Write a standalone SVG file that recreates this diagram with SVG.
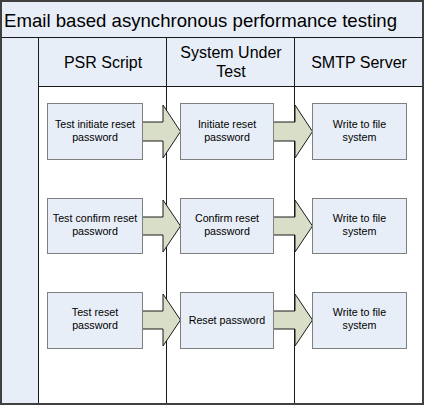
<svg xmlns="http://www.w3.org/2000/svg" width="425" height="407" viewBox="0 0 425 407">
<style>
.bg{fill:#e8eef7;stroke:none}
.ln{stroke:#1a1a1a;stroke-width:1;fill:none}
.frame{fill:none;stroke:#404040;stroke-width:2}
.box{fill:#e8eef7;stroke:#7f7f7f;stroke-width:1}
.arr{fill:#d9dec8;stroke:#1a1a1a;stroke-width:1;stroke-linejoin:miter}
.t{font-family:"Liberation Sans",Arial,sans-serif;fill:#000;text-anchor:middle}
.title{font-size:19px;text-anchor:start}
.hd{font-size:16px}
.bx{font-size:10.7px}
</style>
<g id="pool">
<rect x="1" y="1" width="422" height="403" fill="#ffffff"/>
<rect class="bg" x="1" y="1" width="422" height="37"/>
<rect class="bg" x="1" y="38" width="38" height="366"/>
<rect class="bg" x="39" y="38" width="384" height="48"/>
<line class="ln" x1="1" y1="37.5" x2="423" y2="37.5" stroke="#555"/>
<line class="ln" x1="38.5" y1="38" x2="38.5" y2="404"/>
<line class="ln" x1="39" y1="86.5" x2="423" y2="86.5"/>
<line class="ln" x1="166.5" y1="38" x2="166.5" y2="404"/>
<line class="ln" x1="294.5" y1="38" x2="294.5" y2="404"/>
<rect class="frame" x="1" y="1" width="422" height="403"/>
<text class="t title" x="4" y="27" textLength="393" lengthAdjust="spacingAndGlyphs">Email based asynchronous performance testing</text>
</g>
<g id="lane-psr"><text class="t hd" x="103" y="68">PSR Script</text></g>
<g id="lane-sut"><text class="t hd" x="231" y="58">System Under</text><text class="t hd" x="231" y="77">Test</text></g>
<g id="lane-smtp"><text class="t hd" x="359" y="68">SMTP Server</text></g>
<g id="connectors">
<path class="arr" d="M142.5,122 H163 V105 L180.5,131.5 L163,158 V141 H142.5 Z"/>
<path class="arr" d="M273.5,122 H295 V105 L312.5,131.5 L295,158 V141 H273.5 Z"/>
<path class="arr" d="M142.5,217 H163 V200 L180.5,226 L163,252 V235 H142.5 Z"/>
<path class="arr" d="M273.5,217 H295 V200 L312.5,226 L295,252 V235 H273.5 Z"/>
<path class="arr" d="M142.5,311 H163 V294 L180.5,320 L163,346 V329 H142.5 Z"/>
<path class="arr" d="M273.5,311 H295 V294 L312.5,320 L295,346 V329 H273.5 Z"/>
</g>
<g id="n1"><rect class="box" x="47.5" y="103.5" width="95" height="56"/><text class="t bx" x="95" y="127.5">Test initiate reset</text><text class="t bx" x="95" y="140.5">password</text></g>
<g id="n2"><rect class="box" x="180.5" y="103.5" width="93" height="56"/><text class="t bx" x="227" y="127.5">Initiate reset</text><text class="t bx" x="227" y="140.5">password</text></g>
<g id="n3"><rect class="box" x="312.5" y="103.5" width="94" height="56"/><text class="t bx" x="359.5" y="127.5">Write to file</text><text class="t bx" x="359.5" y="140.5">system</text></g>
<g id="n4"><rect class="box" x="47.5" y="198.5" width="95" height="55"/><text class="t bx" x="95" y="222">Test confirm reset</text><text class="t bx" x="95" y="235">password</text></g>
<g id="n5"><rect class="box" x="180.5" y="198.5" width="93" height="55"/><text class="t bx" x="227" y="222">Confirm reset</text><text class="t bx" x="227" y="235">password</text></g>
<g id="n6"><rect class="box" x="312.5" y="198.5" width="94" height="55"/><text class="t bx" x="359.5" y="222">Write to file</text><text class="t bx" x="359.5" y="235">system</text></g>
<g id="n7"><rect class="box" x="47.5" y="292.5" width="95" height="56"/><text class="t bx" x="95" y="316">Test reset</text><text class="t bx" x="95" y="329">password</text></g>
<g id="n8"><rect class="box" x="180.5" y="292.5" width="93" height="56"/><text class="t bx" x="227" y="324">Reset password</text></g>
<g id="n9"><rect class="box" x="312.5" y="292.5" width="94" height="56"/><text class="t bx" x="359.5" y="316">Write to file</text><text class="t bx" x="359.5" y="329">system</text></g>
</svg>
